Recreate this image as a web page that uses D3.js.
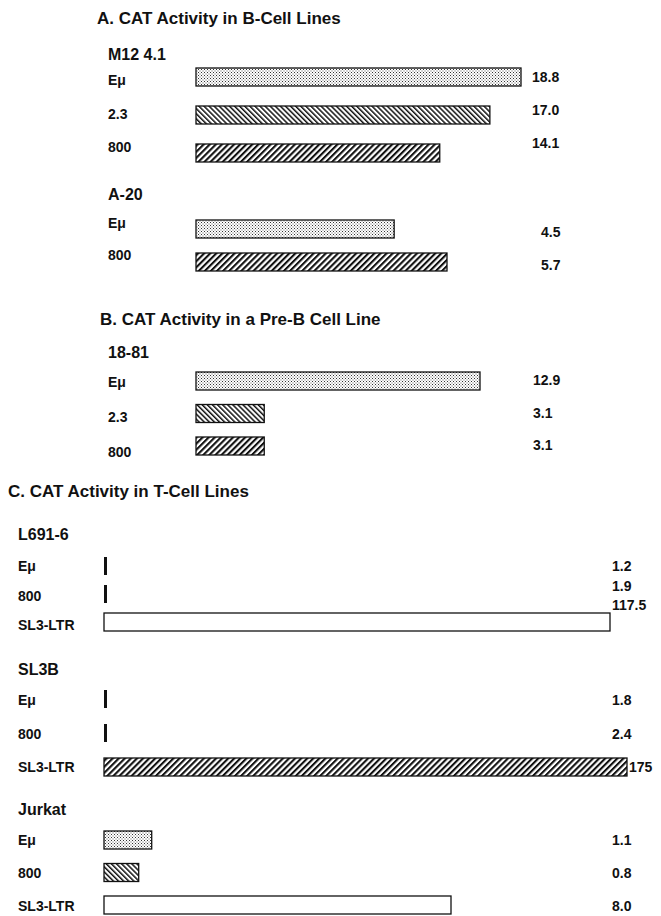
<!DOCTYPE html>
<html>
<head>
<meta charset="utf-8">
<script src="https://cdn.jsdelivr.net/npm/d3@7"></script>
<style>
  body { margin: 0; background: #fff; }
  svg text { font-family: "Liberation Sans", Arial, sans-serif; font-weight: bold; fill: #111; }
</style>
</head>
<body>
<svg id="drawing_region"></svg>
<script>
// panel titles
const panelTitles = ["A. CAT Activity in B-Cell Lines", "B. CAT Activity in a Pre-B Cell Line", "C. CAT Activity in T-Cell Lines"];

// cell lines (groups)
const cellLines = ["M12 4.1", "A-20", "18-81", "L691-6", "SL3B", "Jurkat"];

// constructs and CAT activity per cell line
const m12Constructs = ["Eμ", "2.3", "800"];
const m12Values = [18.8, 17.0, 14.1];
const a20Constructs = ["Eμ", "800"];
const a20Values = [4.5, 5.7];
const preBConstructs = ["Eμ", "2.3", "800"];
const preBValues = [12.9, 3.1, 3.1];
const l691Constructs = ["Eμ", "800", "SL3-LTR"];
const l691Values = [1.2, 1.9, 117.5];
const sl3bConstructs = ["Eμ", "800", "SL3-LTR"];
const sl3bValues = [1.8, 2.4, 175];
const jurkatConstructs = ["Eμ", "800", "SL3-LTR"];
const jurkatValues = [1.1, 0.8, 8.0];

const groupConstructs = [m12Constructs, a20Constructs, preBConstructs, l691Constructs, sl3bConstructs, jurkatConstructs];
const groupValues = [m12Values, a20Values, preBValues, l691Values, sl3bValues, jurkatValues];

// layout only (pixel positions), one entry per group
const layout = [
    {head: 60,  x0: 196, len: 325, bars: [68, 144],  labels: [85, 152],  vals: [82, 148],  lx: 108, vx: 532},
    {head: 200, x0: 196, len: 251, bars: [220, 253], labels: [228, 260], vals: [237, 270], lx: 108, vx: 541},
    {head: 358, x0: 196, len: 284, bars: [372, 437], labels: [387, 457], vals: [385, 450], lx: 108, vx: 533},
    {head: 540, x0: 104, len: 506, bars: [557, 613], labels: [571, 630], vals: [571, 610], lx: 18,  vx: 612},
    {head: 675, x0: 104, len: 523, bars: [690, 758], labels: [705, 772], vals: [705, 772], lx: 18,  vx: 612},
    {head: 815, x0: 104, len: 347, bars: [831, 896], labels: [845, 911], vals: [845, 911], lx: 18,  vx: 612}
];
const titlePos = [{x: 97, y: 24}, {x: 100, y: 325}, {x: 8, y: 497}];
const barH = 18;

const width = 661, height = 916;
const svg = d3.select('#drawing_region')
    .attr('width', width)
    .attr('height', height);

// fill patterns
const defs = svg.append('defs');

const stipple = defs.append('pattern')
    .attr('id', 'stipple')
    .attr('patternUnits', 'userSpaceOnUse')
    .attr('width', 3).attr('height', 3);
stipple.append('rect').attr('width', 3).attr('height', 3).attr('fill', '#fff');
stipple.append('rect').attr('x', 0).attr('y', 0).attr('width', 1).attr('height', 1).attr('fill', '#333');
stipple.append('rect').attr('x', 1.5).attr('y', 1.5).attr('width', 1).attr('height', 1).attr('fill', '#555');

function hatch(id, step, lw, angle) {
    const p = defs.append('pattern')
        .attr('id', id)
        .attr('patternUnits', 'userSpaceOnUse')
        .attr('width', step).attr('height', step)
        .attr('patternTransform', `rotate(${angle})`);
    p.append('rect').attr('width', step).attr('height', step).attr('fill', '#fff');
    p.append('rect').attr('width', lw).attr('height', step).attr('fill', '#111');
}
hatch('back', 3.6, 1.5, -45);
hatch('fwd', 4.3, 2.1, 45);

// pattern per bar: stipple for Eμ, hatching for 2.3 / 800, open for SL3-LTR
function fillFor(line, construct) {
    if (construct === 'Eμ') return 'url(#stipple)';
    if (construct === '2.3') return 'url(#back)';
    if (construct === '800') return line === 'Jurkat' ? 'url(#back)' : 'url(#fwd)';
    return line === 'SL3B' ? 'url(#fwd)' : '#fff';
}

const fmt = v => (Number.isInteger(v) && v >= 100) ? String(v) : v.toFixed(1);

// panel titles
svg.selectAll('text.title')
    .data(panelTitles)
    .join('text')
    .attr('class', 'title')
    .attr('x', (d, i) => titlePos[i].x)
    .attr('y', (d, i) => titlePos[i].y)
    .attr('font-size', 17)
    .text(d => d);

cellLines.forEach((line, gi) => {
    const L = layout[gi];
    const cons = groupConstructs[gi];
    const vals = groupValues[gi];
    const rows = cons.map((c, i) => ({c, v: vals[i]}));

    const x = d3.scaleLinear()
        .domain([0, d3.max(vals)])
        .range([0, L.len]);
    const yBar = d3.scalePoint().domain(cons).range(L.bars);
    const yLab = d3.scalePoint().domain(cons).range(L.labels);
    const yVal = d3.scalePoint().domain(cons).range(L.vals);

    const g = svg.append('g');

    g.append('text')
        .attr('x', L.lx)
        .attr('y', L.head)
        .attr('font-size', 16)
        .text(line);

    g.selectAll('text.lab')
        .data(rows)
        .join('text')
        .attr('class', 'lab')
        .attr('x', L.lx)
        .attr('y', d => yLab(d.c))
        .attr('font-size', 14)
        .text(d => d.c);

    // tiny values are drawn as a solid tick
    g.selectAll('rect.bar')
        .data(rows)
        .join('rect')
        .attr('class', 'bar')
        .attr('x', L.x0)
        .attr('y', d => yBar(d.c))
        .attr('width', d => x(d.v) < 10 ? 3 : x(d.v))
        .attr('height', barH)
        .attr('fill', d => x(d.v) < 10 ? '#111' : fillFor(line, d.c))
        .attr('stroke', d => x(d.v) < 10 ? 'none' : '#111')
        .attr('stroke-width', 1.3);

    g.selectAll('text.val')
        .data(rows)
        .join('text')
        .attr('class', 'val')
        .attr('x', d => Math.max(L.vx, L.x0 + x(d.v) + 2))
        .attr('y', d => yVal(d.c))
        .attr('font-size', 14)
        .text(d => fmt(d.v));
});
</script>
</body>
</html>
